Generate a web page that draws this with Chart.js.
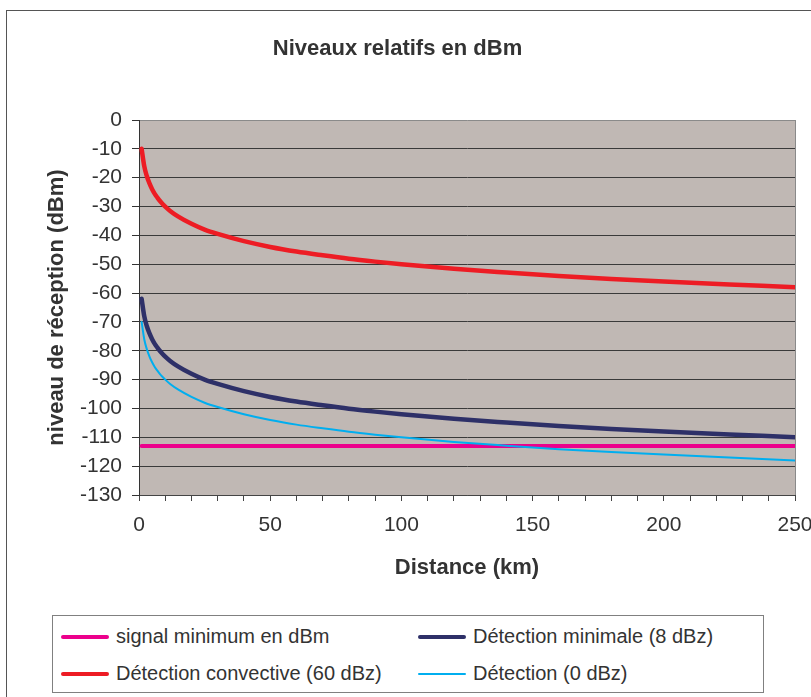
<!DOCTYPE html>
<html lang="fr">
<head>
    <meta charset="UTF-8">
    <title>Niveaux relatifs en dBm</title>
    <script src="https://cdn.jsdelivr.net/npm/chart.js"></script>
    <style>
        body {
            margin: 0;
            padding: 0;
            background: #fff;
            font-family: "Liberation Sans", Arial, sans-serif;
        }
        .frame {
            position: absolute;
            left: 6px;
            top: 10px;
            width: 900px;
            height: 800px;
            border: 1px solid #555;
        }
        .chart-box {
            position: absolute;
            left: 0;
            top: 0;
            width: 811px;
            height: 697px;
        }
        .legend {
            position: absolute;
            left: 52px;
            top: 615px;
            width: 712px;
            height: 78px;
            border: 1px solid #808080;
            background: #fff;
            display: grid;
            grid-template-columns: 357px auto;
            grid-auto-rows: 37px;
            padding: 2px 0 0 8px;
            box-sizing: border-box;
            color: #333;
            font-size: 20px;
        }
        .legend-item {
            display: flex;
            align-items: center;
        }
        .legend-item span.swatch {
            display: inline-block;
            width: 48px;
            margin-right: 7px;
            border-radius: 2px;
        }
    </style>
</head>
<body>
    <div class="frame"></div>
    <div class="chart-box">
        <canvas id="levelChart"></canvas>
    </div>
    <div class="legend" id="legend"></div>

    <script>
        // values
        const distanceKm = [1, 2, 3, 4, 5, 6, 7, 8, 9, 10, 12, 15, 20, 25, 30, 40, 50, 60, 70, 80, 90, 100, 120, 140, 160, 180, 200, 225, 250];
        const convective60 = [-10, -16, -19.5, -22, -24, -25.6, -26.9, -28.1, -29.1, -30, -31.6, -33.5, -36, -38, -39.5, -42, -44, -45.6, -46.9, -48.1, -49.1, -50, -51.6, -52.9, -54.1, -55.1, -56, -57, -58];
        const minimal8 = [-62, -68, -71.5, -74, -76, -77.6, -78.9, -80.1, -81.1, -82, -83.6, -85.5, -88, -90, -91.5, -94, -96, -97.6, -98.9, -100.1, -101.1, -102, -103.6, -104.9, -106.1, -107.1, -108, -109, -110];
        const detection0 = [-70, -76, -79.5, -82, -84, -85.6, -86.9, -88.1, -89.1, -90, -91.6, -93.5, -96, -98, -99.5, -102, -104, -105.6, -106.9, -108.1, -109.1, -110, -111.6, -112.9, -114.1, -115.1, -116, -117, -118];
        const minSignalKm = [1, 250];
        const minSignal = [-113, -113];
        const xTickLabels = [0, 50, 100, 150, 200, 250];

        const toPoints = (xs, ys) => xs.map((x, i) => ({ x: x, y: ys[i] }));
        const fontFamily = '"Liberation Sans", Arial, sans-serif';

        const datasets = [
            { label: 'signal minimum en dBm', data: toPoints(minSignalKm, minSignal), borderColor: '#ec008c', borderWidth: 4, order: 1 },
            { label: 'Détection minimale (8 dBz)', data: toPoints(distanceKm, minimal8), borderColor: '#2e3068', borderWidth: 4.5, order: 1 },
            { label: 'Détection convective (60 dBz)', data: toPoints(distanceKm, convective60), borderColor: '#ed1c24', borderWidth: 4.5, order: 1 },
            { label: 'Détection (0 dBz)', data: toPoints(distanceKm, detection0), borderColor: '#00aeef', borderWidth: 2, order: 0 }
        ];
        datasets.forEach(ds => {
            ds.pointRadius = 0;
            ds.fill = false;
            ds.cubicInterpolationMode = 'monotone';
            ds.borderCapStyle = 'round';
        });

        const plotBackground = {
            id: 'plotBackground',
            beforeDraw(chart) {
                const { ctx, chartArea: a } = chart;
                ctx.save();
                ctx.fillStyle = '#c0b8b4';
                ctx.fillRect(a.left, a.top, a.right - a.left, a.bottom - a.top);
                ctx.restore();
            },
            beforeDatasetsDraw(chart) {
                const { ctx, chartArea: a } = chart;
                ctx.save();
                ctx.strokeStyle = '#8a8a8a';
                ctx.lineWidth = 1;
                ctx.beginPath();
                ctx.moveTo(a.right + 0.5, a.top);
                ctx.lineTo(a.right + 0.5, a.bottom);
                ctx.stroke();
                ctx.restore();
            }
        };

        const ctx = document.getElementById('levelChart').getContext('2d');
        const levelChart = new Chart(ctx, {
            type: 'line',
            data: { datasets: datasets },
            plugins: [plotBackground],
            options: {
                responsive: true,
                maintainAspectRatio: false,
                animation: false,
                layout: { padding: { left: 0, right: 16, top: 0, bottom: 112 } },
                plugins: {
                    legend: { display: false },
                    tooltip: { enabled: false },
                    title: {
                        display: true,
                        text: 'Niveaux relatifs en dBm',
                        color: '#333',
                        font: { family: fontFamily, size: 22, weight: 'bold' },
                        padding: { top: 36, bottom: 57.6 }
                    }
                },
                scales: {
                    x: {
                        type: 'linear',
                        min: 0,
                        max: 250,
                        afterFit(scale) {
                            scale.height = 90;
                            scale.paddingLeft = 0;
                            scale.paddingRight = 0;
                        },
                        border: { display: true, color: '#444', width: 1 },
                        grid: { drawOnChartArea: false, drawTicks: true, tickLength: 6, color: '#444' },
                        ticks: {
                            stepSize: 10,
                            maxTicksLimit: 40,
                            autoSkip: false,
                            maxRotation: 0,
                            padding: 12,
                            color: '#333',
                            font: { family: fontFamily, size: 21 },
                            callback: value => xTickLabels.includes(value) ? String(value) : ''
                        },
                        title: {
                            display: true,
                            text: 'Distance (km)',
                            color: '#333',
                            font: { family: fontFamily, size: 22, weight: 'bold' },
                            padding: { top: 0, bottom: 4 }
                        }
                    },
                    y: {
                        min: -130,
                        max: 0,
                        afterFit(scale) { scale.width = 139; },
                        border: { display: true, color: '#333', width: 1 },
                        grid: {
                            drawTicks: true,
                            tickLength: 7,
                            tickColor: '#333',
                            color: c => c.tick && c.tick.value === 0 ? '#8a8a8a' : '#3a3a3a'
                        },
                        ticks: {
                            stepSize: 10,
                            maxTicksLimit: 20,
                            padding: 10,
                            color: '#333',
                            font: { family: fontFamily, size: 21 }
                        },
                        title: {
                            display: true,
                            text: 'niveau de réception (dBm)',
                            color: '#333',
                            font: { family: fontFamily, size: 22, weight: 'bold' },
                            padding: { top: 44, bottom: 0 }
                        }
                    }
                }
            }
        });

        // legend box, two columns as in the original
        const legendEl = document.getElementById('legend');
        levelChart.data.datasets.forEach(ds => {
            const item = document.createElement('div');
            item.className = 'legend-item';
            const swatch = document.createElement('span');
            swatch.className = 'swatch';
            swatch.style.height = (ds.borderWidth >= 3 ? 4 : 2) + 'px';
            swatch.style.background = ds.borderColor;
            item.appendChild(swatch);
            item.appendChild(document.createTextNode(ds.label));
            legendEl.appendChild(item);
        });
    </script>
</body>
</html>
